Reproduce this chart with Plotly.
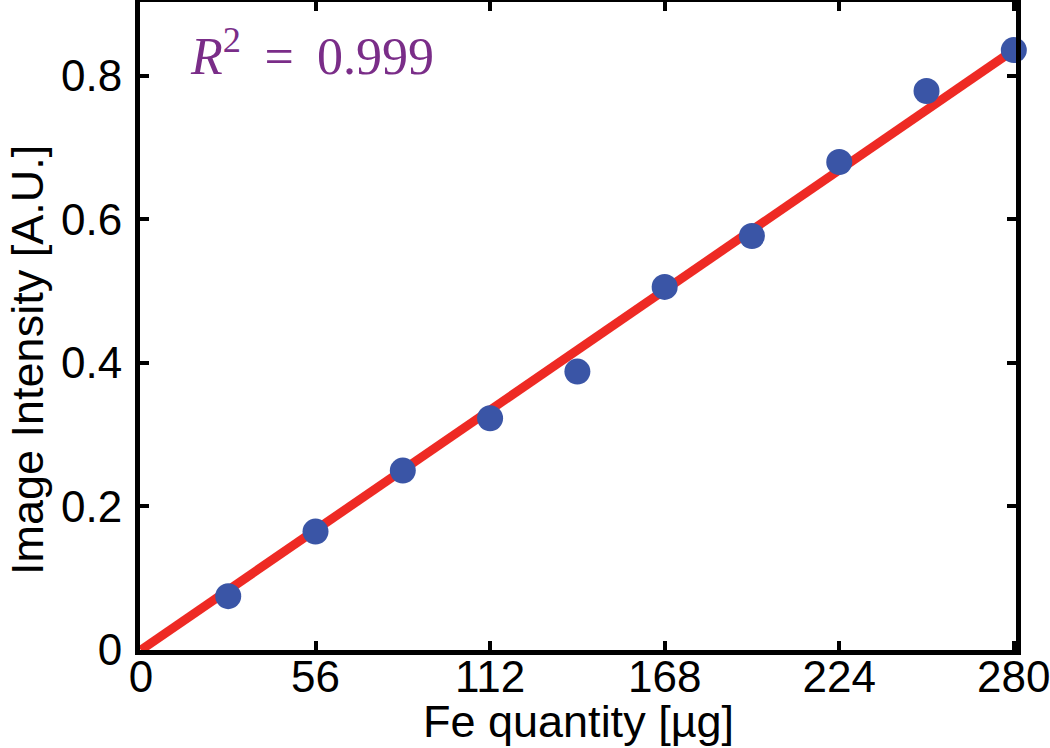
import plotly.graph_objects as go

# Data
fe_quantity = [28, 56, 84, 112, 140, 168, 196, 224, 252, 280]
intensity = [0.075, 0.165, 0.25, 0.323, 0.388, 0.506, 0.577, 0.680, 0.779, 0.836]
fit_x = [0, 280]
fit_y = [0, 0.836]
x_ticks = [0, 56, 112, 168, 224, 280]
y_ticks = [0, 0.2, 0.4, 0.6, 0.8]
y_tick_labels = ["0", "0.2", "0.4", "0.6", "0.8"]

fig = go.Figure()
fig.add_trace(go.Scatter(x=fit_x, y=fit_y, mode="lines",
                         line=dict(color="#EE2A24", width=9), showlegend=False,
                         cliponaxis=False))
fig.add_trace(go.Scatter(x=fe_quantity, y=intensity, mode="markers",
                         marker=dict(color="#3A55A6", size=26, line=dict(width=0)),
                         showlegend=False, cliponaxis=False))

axis_common = dict(showline=True, linecolor="black", linewidth=5, mirror="ticks",
                   ticks="inside", ticklen=9, tickwidth=4, tickcolor="black",
                   showgrid=False, zeroline=False, automargin=False,
                   ticklabeloverflow="allow",
                   tickfont=dict(family="Liberation Sans, Arial", size=44, color="black"))

fig.update_xaxes(range=[-0.3, 280.7], tickvals=x_ticks,
                 ticktext=[str(v) for v in x_ticks], ticklabelstandoff=-16, **axis_common)
fig.update_yaxes(range=[0, 0.903], tickvals=y_ticks, ticktext=y_tick_labels,
                 ticklabelstandoff=4, **axis_common)

fig.update_layout(
    template="none",
    width=1050, height=748,
    margin=dict(l=140, r=34, t=2, b=98, autoexpand=False),
    paper_bgcolor="white", plot_bgcolor="white",
    annotations=[
        dict(text="Fe quantity [µg]", xref="paper", yref="paper", x=0.5, y=-0.111,
             xanchor="center", yanchor="middle", showarrow=False,
             font=dict(family="Liberation Sans, Arial", size=45, color="black")),
        dict(text="Image Intensity [A.U.]", xref="paper", yref="paper", x=(27 - 140) / 876,
             y=0.4475, xanchor="center", yanchor="middle", showarrow=False, textangle=-90,
             font=dict(family="Liberation Sans, Arial", size=45, color="black")),
        dict(text="<i>R</i><sup>2</sup>\u2009 = \u20090.999", xref="paper", yref="paper",
             x=(188 - 140) / 876, y=(650 - 52) / 648,
             xanchor="left", yanchor="middle", showarrow=False,
             font=dict(family="Liberation Serif, DejaVu Serif, serif", size=52, color="#7A2D88")),
    ],
)

fig.write_html("out.html", config={"displayModeBar": False},
               post_script="document.body.style.margin='0';")
